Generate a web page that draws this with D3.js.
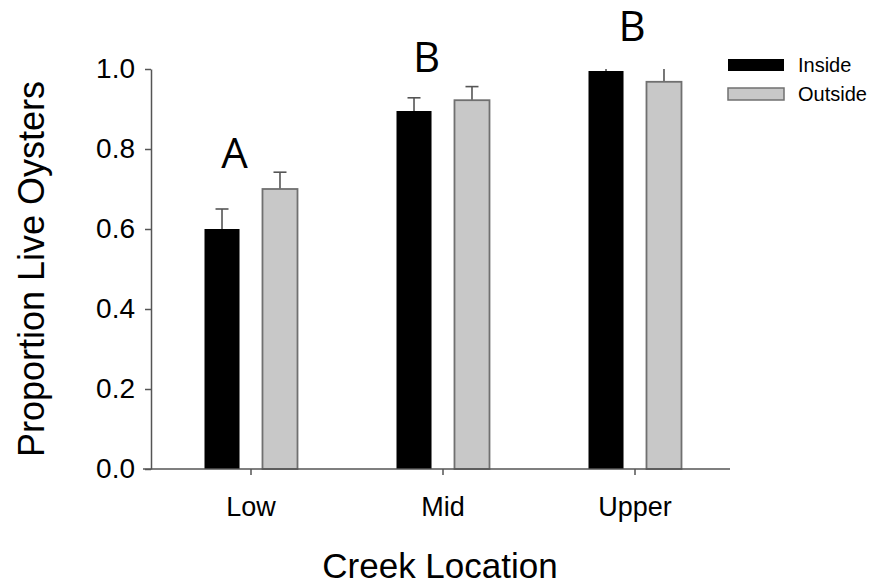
<!DOCTYPE html>
<html>
<head>
<meta charset="utf-8">
<script src="https://cdn.jsdelivr.net/npm/d3@7/dist/d3.min.js"></script>
<style>
  html, body { margin: 0; padding: 0; background: #fff; }
  svg { display: block; }
  text { font-family: "Liberation Sans", Arial, sans-serif; fill: #000; }
</style>
</head>
<body>
<svg id="chart" width="894" height="588"></svg>
<script>
// Proportion of live oysters by creek location, inside vs outside
const categories = ["Low", "Mid", "Upper"];
const groups = ["Inside", "Outside"];
const insideMeans = [0.60, 0.895, 0.995];
const insideErr = [0.05, 0.033, 0.01];
const outsideMeans = [0.70, 0.922, 0.968];
const outsideErr = [0.042, 0.034, 0.04];
const letters = ["A", "B", "B"];
const yTicks = [0.0, 0.2, 0.4, 0.6, 0.8, 1.0];

const colors = { Inside: "#000000", Outside: "#c8c8c8" };
const strokes = { Inside: "#000000", Outside: "#707070" };

const svg = d3.select("#chart");

const x = d3.scaleBand().domain(categories).range([155, 731]).paddingInner(0).paddingOuter(0);
const xs = d3.scaleBand().domain(groups).range([-46.5, 46.5]).paddingInner(0.396).paddingOuter(0);
const y = d3.scaleLinear().domain([0, 1]).range([469, 69]);
const axisX = 151;

const rows = [];
categories.forEach((c, i) => {
  rows.push({ cat: c, group: "Inside", mean: insideMeans[i], err: insideErr[i] });
  rows.push({ cat: c, group: "Outside", mean: outsideMeans[i], err: outsideErr[i] });
});
const cx = d => x(d.cat) + x.bandwidth() / 2;

// Error bars (upper only), clipped at the top of the axis
const eb = svg.append("g").attr("stroke", "#555").attr("stroke-width", 1.6);
rows.forEach(d => {
  const mid = cx(d) + xs(d.group) + xs.bandwidth() / 2;
  const top = Math.min(d.mean + d.err, 1);
  eb.append("line").attr("x1", mid).attr("x2", mid)
    .attr("y1", y(d.mean)).attr("y2", y(top));
  if (d.mean + d.err <= 1) {
    eb.append("line").attr("x1", mid - 6.5).attr("x2", mid + 6.5)
      .attr("y1", y(top)).attr("y2", y(top));
  }
});

// Bars
svg.append("g").selectAll("rect").data(rows).join("rect")
  .attr("x", d => cx(d) + xs(d.group))
  .attr("width", xs.bandwidth())
  .attr("y", d => y(d.mean))
  .attr("height", d => y(0) - y(d.mean))
  .attr("fill", d => colors[d.group])
  .attr("stroke", d => strokes[d.group])
  .attr("stroke-width", d => d.group === "Outside" ? 1.8 : 0);

// Y axis
const gy = svg.append("g").attr("transform", `translate(${axisX},0)`)
  .call(d3.axisLeft(y).tickValues(yTicks).tickFormat(d3.format(".1f")).tickSize(6).tickSizeOuter(0).tickPadding(10));
gy.selectAll("text").style("font-size", "28px");

// X axis
const gx = svg.append("g").attr("transform", `translate(0,${y(0)})`)
  .call(d3.axisBottom(x).tickSize(6).tickSizeOuter(0).tickPadding(22));
gx.select(".domain").attr("d", `M${axisX - 8},0H730`);
gx.selectAll("text").style("font-size", "27px");

[gx, gy].forEach(g => {
  g.select(".domain").attr("stroke", "#555").attr("stroke-width", 1.5);
  g.selectAll(".tick line").attr("stroke", "#555").attr("stroke-width", 1.5);
});

// Axis titles
svg.append("text")
  .attr("transform", `translate(44,269) rotate(-90)`)
  .attr("text-anchor", "middle")
  .style("font-size", "36px")
  .text("Proportion Live Oysters");

svg.append("text")
  .attr("x", 440).attr("y", 578)
  .attr("text-anchor", "middle")
  .style("font-size", "35px")
  .text("Creek Location");

// Significance letters, placed above each group's tallest error bar
const letterDx = [-16.5, -16.5, -3];
const letterDy = [-4, -15, -28];
categories.forEach((c, i) => {
  const top = Math.min(Math.max(insideMeans[i] + insideErr[i], outsideMeans[i] + outsideErr[i]), 1);
  svg.append("text")
    .attr("x", x(c) + x.bandwidth() / 2 + letterDx[i])
    .attr("y", y(top) + letterDy[i])
    .attr("text-anchor", "middle")
    .style("font-family", "'Open Sans', sans-serif")
    .style("font-size", "42px")
    .text(letters[i]);
});

// Legend
const lg = svg.append("g").attr("transform", "translate(728,59)");
groups.forEach((g, i) => {
  const row = lg.append("g").attr("transform", `translate(0,${i * 29})`);
  row.append("rect").attr("width", 56).attr("height", 12)
    .attr("fill", colors[g]).attr("stroke", strokes[g]).attr("stroke-width", g === "Outside" ? 1.5 : 0);
  row.append("text").attr("x", 70).attr("y", 13)
    .style("font-size", "20px").text(g);
});
</script>
</body>
</html>
